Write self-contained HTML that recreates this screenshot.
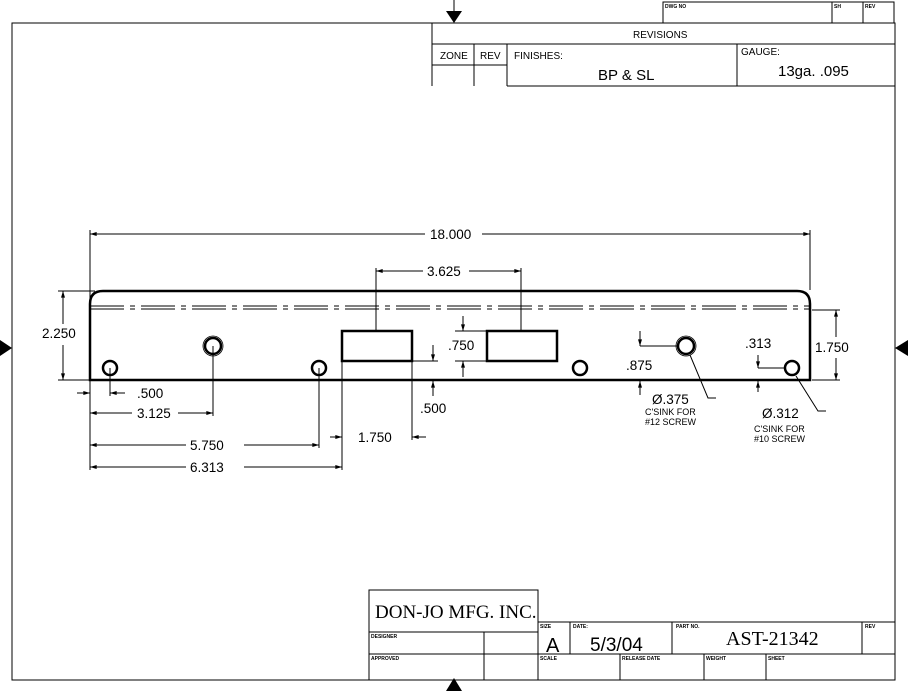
<!DOCTYPE html>
<html><head><meta charset="utf-8"><style>
html,body{margin:0;padding:0;background:#fff}
svg{display:block}
text{font-family:"Liberation Sans",sans-serif;fill:#000}
</style></head><body>
<svg width="908" height="691" viewBox="0 0 908 691" xmlns="http://www.w3.org/2000/svg">
<defs>
<marker id="a" viewBox="0 0 10 6" refX="10" refY="3" markerWidth="8" markerHeight="4" orient="auto-start-reverse"><path d="M0,0 L10,3 L0,6 z" fill="#000"/></marker>
</defs>
<g fill="none" stroke="#000" stroke-width="1">
<!-- border -->
<rect x="12" y="23" width="883" height="657"/>
<!-- DWG NO box -->
<rect x="663" y="2" width="231" height="21"/>
<line x1="832" y1="2" x2="832" y2="23"/><line x1="863" y1="2" x2="863" y2="23"/>
<!-- revisions -->
<line x1="432" y1="23" x2="432" y2="86"/>
<line x1="432" y1="44" x2="895" y2="44"/>
<line x1="474" y1="44" x2="474" y2="86"/>
<line x1="507" y1="44" x2="507" y2="86"/>
<line x1="432" y1="65" x2="507" y2="65"/>
<line x1="737" y1="44" x2="737" y2="86"/>
<line x1="507" y1="86" x2="895" y2="86"/>
<!-- bottom title -->
<rect x="369" y="590" width="169" height="90"/>
<line x1="369" y1="632" x2="538" y2="632"/>
<line x1="369" y1="654" x2="895" y2="654"/>
<line x1="484" y1="632" x2="484" y2="680"/>
<line x1="538" y1="622" x2="895" y2="622"/>
<line x1="570" y1="622" x2="570" y2="654"/>
<line x1="672" y1="622" x2="672" y2="654"/>
<line x1="862" y1="622" x2="862" y2="654"/>
<line x1="620" y1="654" x2="620" y2="680"/>
<line x1="704" y1="654" x2="704" y2="680"/>
<line x1="766" y1="654" x2="766" y2="680"/>
<!-- center arrows -->
<line x1="454" y1="0" x2="454" y2="12"/>
<line x1="454" y1="682" x2="454" y2="691"/>
</g>
<g fill="#000">
<polygon points="446,11 462,11 454,23"/>
<polygon points="446,691 462,691 454,678"/>
<polygon points="0,340 0,356 12,348"/>
<polygon points="908,340 908,356 895,348"/>
</g>
<!-- part -->
<g fill="none" stroke="#000">
<path d="M90,380 L90,304 Q90,291 103,291 L797,291 Q810,291 810,304 L810,380 Z" stroke-width="2.5"/>
<line x1="90" y1="306" x2="810" y2="306" stroke-width="1" stroke-dasharray="34,6,5,6"/>
<line x1="90" y1="309" x2="810" y2="309" stroke-width="1" stroke-dasharray="34,6,5,6"/>
<rect x="342" y="331" width="70" height="30" stroke-width="2.5"/>
<rect x="487" y="331" width="70" height="30" stroke-width="2.5"/>
<g stroke-width="2.5">
<circle cx="110" cy="368" r="7"/><circle cx="213" cy="346" r="8"/><circle cx="319" cy="368" r="7"/>
<circle cx="580" cy="368" r="7"/><circle cx="686" cy="346" r="8"/><circle cx="792" cy="368" r="7"/>
</g>
<g stroke-width="0.8">
<circle cx="213" cy="346" r="10"/><circle cx="686" cy="346" r="10"/>
</g>
</g>
<!-- dimensions -->
<g stroke="#000" stroke-width="1" fill="none">
<line x1="90" y1="230" x2="90" y2="470"/>
<line x1="810" y1="230" x2="810" y2="290"/>
<line x1="90" y1="234" x2="425" y2="234" marker-start="url(#a)"/>
<line x1="482" y1="234" x2="810" y2="234" marker-end="url(#a)"/>
<line x1="376" y1="268" x2="376" y2="331"/><line x1="521" y1="268" x2="521" y2="331"/>
<line x1="376" y1="271" x2="423" y2="271" marker-start="url(#a)"/>
<line x1="469" y1="271" x2="521" y2="271" marker-end="url(#a)"/>
<line x1="58" y1="291" x2="95" y2="291"/><line x1="58" y1="380" x2="90" y2="380"/>
<line x1="63" y1="291" x2="63" y2="324" marker-start="url(#a)"/>
<line x1="63" y1="345" x2="63" y2="380" marker-end="url(#a)"/>
<line x1="812" y1="310" x2="840" y2="310"/><line x1="812" y1="380" x2="840" y2="380"/>
<line x1="836" y1="310" x2="836" y2="337" marker-start="url(#a)"/>
<line x1="836" y1="358" x2="836" y2="380" marker-end="url(#a)"/>
<line x1="77" y1="393" x2="90" y2="393" marker-end="url(#a)"/>
<line x1="110" y1="368" x2="110" y2="396"/>
<line x1="125" y1="393" x2="110" y2="393" marker-end="url(#a)"/>
<line x1="213" y1="346" x2="213" y2="416"/>
<line x1="90" y1="413" x2="132" y2="413" marker-start="url(#a)"/>
<line x1="178" y1="413" x2="213" y2="413" marker-end="url(#a)"/>
<line x1="319" y1="368" x2="319" y2="448"/>
<line x1="90" y1="445" x2="186" y2="445" marker-start="url(#a)"/>
<line x1="244" y1="445" x2="319" y2="445" marker-end="url(#a)"/>
<line x1="342" y1="361" x2="342" y2="470"/>
<line x1="90" y1="467" x2="186" y2="467" marker-start="url(#a)"/>
<line x1="244" y1="467" x2="342" y2="467" marker-end="url(#a)"/>
<line x1="330" y1="437" x2="342" y2="437" marker-end="url(#a)"/>
<line x1="412" y1="361" x2="412" y2="440"/>
<line x1="426" y1="437" x2="412" y2="437" marker-end="url(#a)"/>
<line x1="412" y1="361" x2="438" y2="361"/>
<line x1="433" y1="345" x2="433" y2="361" marker-end="url(#a)"/>
<line x1="433" y1="396" x2="433" y2="381" marker-end="url(#a)"/>
<line x1="455" y1="331" x2="487" y2="331"/><line x1="455" y1="361" x2="487" y2="361"/>
<line x1="463" y1="316" x2="463" y2="331" marker-end="url(#a)"/>
<line x1="463" y1="377" x2="463" y2="361" marker-end="url(#a)"/>
<line x1="640" y1="346" x2="677" y2="346"/>
<line x1="640" y1="331" x2="640" y2="346" marker-end="url(#a)"/>
<line x1="640" y1="395" x2="640" y2="381" marker-end="url(#a)"/>
<line x1="758" y1="368" x2="784" y2="368"/>
<line x1="758" y1="355" x2="758" y2="368" marker-end="url(#a)"/>
<line x1="758" y1="392" x2="758" y2="381" marker-end="url(#a)"/>
<polyline points="690,355 708,398 716,398"/>
<polyline points="796,376 818,411 826,411"/>
</g>
<g font-size="13.5">
<text x="430" y="239">18.000</text>
<text x="427" y="276">3.625</text>
<text x="42" y="338">2.250</text>
<text x="815" y="352">1.750</text>
<text x="137" y="398">.500</text>
<text x="137" y="418">3.125</text>
<text x="190" y="450">5.750</text>
<text x="190" y="472">6.313</text>
<text x="358" y="442">1.750</text>
<text x="420" y="413">.500</text>
<text x="448" y="350">.750</text>
<text x="626" y="370">.875</text>
<text x="745" y="348">.313</text>
<text x="652" y="404">Ø.375</text>
<text x="762" y="418">Ø.312</text>
</g>
<g font-size="9">
<text x="645" y="415">C'SINK FOR</text><text x="645" y="425">#12 SCREW</text>
<text x="754" y="432">C'SINK FOR</text><text x="754" y="442">#10 SCREW</text>
</g>
<!-- title text -->
<g font-size="10">
<text x="633" y="38">REVISIONS</text>
<text x="440" y="59">ZONE</text><text x="480" y="59">REV</text>
<text x="514" y="59">FINISHES:</text><text x="741" y="55">GAUGE:</text>
</g>
<text x="598" y="80" font-size="15">BP &amp; SL</text>
<text x="778" y="76" font-size="15">13ga.  .095</text>
<g font-size="5" font-weight="bold">
<text x="665" y="8">DWG NO</text><text x="834" y="8">SH</text><text x="865" y="8">REV</text>
<text x="371" y="638">DESIGNER</text><text x="371" y="660">APPROVED</text>
<text x="540" y="628">SIZE</text><text x="573" y="628">DATE:</text><text x="676" y="628">PART NO.</text><text x="865" y="628">REV</text>
<text x="540" y="660">SCALE</text><text x="622" y="660">RELEASE DATE</text><text x="706" y="660">WEIGHT</text><text x="768" y="660">SHEET</text>
</g>
<text x="375" y="618" font-size="19" font-family="Liberation Serif" style="font-family:'Liberation Serif',serif">DON-JO MFG. INC.</text>
<text x="546" y="652" font-size="20">A</text>
<text x="590" y="651" font-size="19">5/3/04</text>
<text x="726" y="645" font-size="20" style="font-family:'Liberation Serif',serif">AST-21342</text>
</svg>
</body></html>
